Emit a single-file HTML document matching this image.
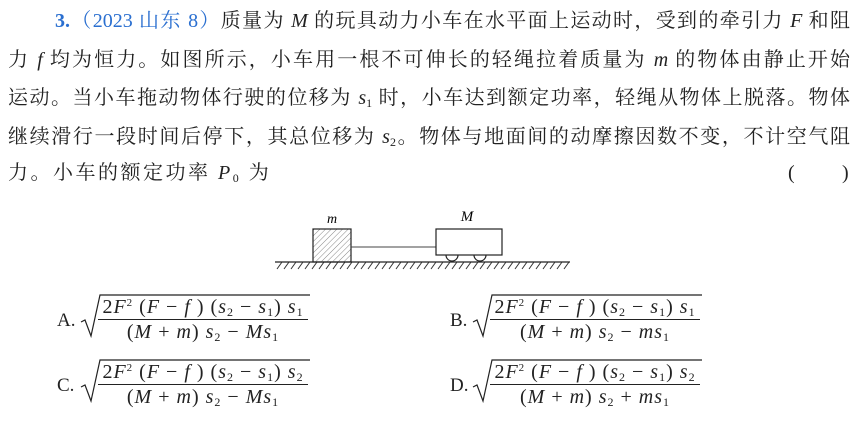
<!DOCTYPE html>
<html><head><meta charset="utf-8"><style>
body{margin:0;width:861px;height:425px;background:#fff;position:relative;overflow:hidden;font-family:"Liberation Serif","Noto Serif CJK SC",serif;color:#222}
.l{position:absolute;left:8px;width:842px;font-size:20px;line-height:26px;text-align:justify;text-align-last:justify;white-space:nowrap}
i{font-style:italic;font-family:"Liberation Serif",serif}
sub{font-size:12px;vertical-align:-3px;line-height:0}
.opt{position:absolute;font-size:19px;font-family:"Liberation Serif",serif}
.fr{position:absolute;text-align:center;font-size:20px;letter-spacing:1px;font-family:"Liberation Serif",serif;white-space:nowrap}
.num{border-bottom:1.3px solid #222;padding:0 2px;line-height:23px}
.den{line-height:24px}
sup{font-size:11px;vertical-align:7px;line-height:0}
</style></head><body>
<div class="l" style="top:8px;left:55px;width:795px"><span style="color:#2a6fd0"><b>3.</b>（2023 山东 8）</span>质量为 <i>M</i> 的玩具动力小车在水平面上运动时，受到的牵引力 <i>F</i> 和阻</div>
<div class="l" style="top:47px">力 <i>f</i> 均为恒力。如图所示，小车用一根不可伸长的轻绳拉着质量为 <i>m</i> 的物体由静止开始</div>
<div class="l" style="top:85px">运动。当小车拖动物体行驶的位移为 <i>s</i><sub>1</sub> 时，小车达到额定功率，轻绳从物体上脱落。物体</div>
<div class="l" style="top:124px">继续滑行一段时间后停下，其总位移为 <i>s</i><sub>2</sub>。物体与地面间的动摩擦因数不变，不计空气阻</div>
<div class="l" style="top:160px;width:auto;text-align:left;text-align-last:auto;letter-spacing:2.5px">力。小车的额定功率 <i>P</i><sub>0</sub> 为</div>
<div class="l" style="top:160px;left:788px;width:auto;text-align-last:auto">(</div>
<div class="l" style="top:160px;left:842px;width:auto;text-align-last:auto">)</div>

<svg style="position:absolute;left:0;top:0" width="861" height="425">
<defs><pattern id="h" width="4" height="4" patternUnits="userSpaceOnUse" patternTransform="rotate(45)"><line x1="0" y1="0" x2="0" y2="4" stroke="#888" stroke-width="1"/></pattern></defs>
<line x1="275" y1="262" x2="570" y2="262" stroke="#222" stroke-width="1.3"/>
<g stroke="#333" stroke-width="1">
<path d="M277 269 l5 -7 M284 269 l5 -7 M291 269 l5 -7 M298 269 l5 -7 M305 269 l5 -7 M312 269 l5 -7 M319 269 l5 -7 M326 269 l5 -7 M333 269 l5 -7 M340 269 l5 -7 M347 269 l5 -7 M354 269 l5 -7 M361 269 l5 -7 M368 269 l5 -7 M375 269 l5 -7 M382 269 l5 -7 M389 269 l5 -7 M396 269 l5 -7 M403 269 l5 -7 M410 269 l5 -7 M417 269 l5 -7 M424 269 l5 -7 M431 269 l5 -7 M438 269 l5 -7 M445 269 l5 -7 M452 269 l5 -7 M459 269 l5 -7 M466 269 l5 -7 M473 269 l5 -7 M480 269 l5 -7 M487 269 l5 -7 M494 269 l5 -7 M501 269 l5 -7 M508 269 l5 -7 M515 269 l5 -7 M522 269 l5 -7 M529 269 l5 -7 M536 269 l5 -7 M543 269 l5 -7 M550 269 l5 -7 M557 269 l5 -7 M564 269 l5 -7"/>
</g>
<rect x="313" y="229" width="38" height="33" fill="url(#h)" stroke="#222" stroke-width="1.2"/>
<line x1="351" y1="247" x2="436" y2="247" stroke="#444" stroke-width="1"/>
<rect x="436" y="229" width="66" height="26" fill="#fff" stroke="#222" stroke-width="1.2"/>
<path d="M446 255 a6 6 0 0 0 12 0 M474 255 a6 6 0 0 0 12 0" fill="none" stroke="#222" stroke-width="1.2"/>
<text x="332" y="223" font-size="14" font-style="italic" font-family="Liberation Serif" text-anchor="middle">m</text>
<text x="467" y="221" font-size="15" font-style="italic" font-family="Liberation Serif" text-anchor="middle">M</text>
<g fill="none" stroke="#222" stroke-width="1.2">
<path d="M81 322 l4 -2 l6 16 l9 -41 h210"/>
<path d="M473 322 l4 -2 l6 16 l9 -41 h210"/>
<path d="M81 387 l4 -2 l6 16 l9 -41 h210"/>
<path d="M473 387 l4 -2 l6 16 l9 -41 h210"/>
</g>
</svg>

<div class="opt" style="left:57px;top:310px">A.</div>
<div class="opt" style="left:450px;top:310px">B.</div>
<div class="opt" style="left:57px;top:375px">C.</div>
<div class="opt" style="left:450px;top:375px">D.</div>

<div class="fr" style="left:98px;top:296px;width:210px"><div class="num">2<i>F</i><sup>2</sup> (<i>F</i> − <i>f</i> ) (<i>s</i><sub>2</sub> − <i>s</i><sub>1</sub>) <i>s</i><sub>1</sub></div><div class="den">(<i>M</i> + <i>m</i>) <i>s</i><sub>2</sub> − <i>Ms</i><sub>1</sub></div></div>
<div class="fr" style="left:490px;top:296px;width:210px"><div class="num">2<i>F</i><sup>2</sup> (<i>F</i> − <i>f</i> ) (<i>s</i><sub>2</sub> − <i>s</i><sub>1</sub>) <i>s</i><sub>1</sub></div><div class="den">(<i>M</i> + <i>m</i>) <i>s</i><sub>2</sub> − <i>ms</i><sub>1</sub></div></div>
<div class="fr" style="left:98px;top:361px;width:210px"><div class="num">2<i>F</i><sup>2</sup> (<i>F</i> − <i>f</i> ) (<i>s</i><sub>2</sub> − <i>s</i><sub>1</sub>) <i>s</i><sub>2</sub></div><div class="den">(<i>M</i> + <i>m</i>) <i>s</i><sub>2</sub> − <i>Ms</i><sub>1</sub></div></div>
<div class="fr" style="left:490px;top:361px;width:210px"><div class="num">2<i>F</i><sup>2</sup> (<i>F</i> − <i>f</i> ) (<i>s</i><sub>2</sub> − <i>s</i><sub>1</sub>) <i>s</i><sub>2</sub></div><div class="den">(<i>M</i> + <i>m</i>) <i>s</i><sub>2</sub> + <i>ms</i><sub>1</sub></div></div>
</body></html>
